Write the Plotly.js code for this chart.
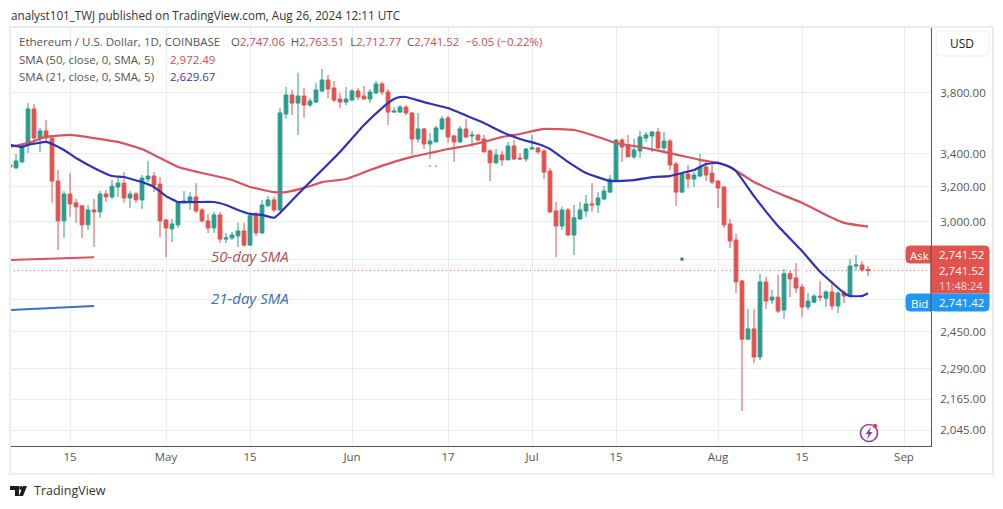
<!DOCTYPE html>
<html>
<head>
<meta charset="utf-8">
<script src="https://cdn.plot.ly/plotly-3.0.1.min.js"></script>
<style>
  html, body { margin: 0; padding: 0; background: #fff; }
  #chart { width: 1003px; height: 509px; }
</style>
</head>
<body>
<div id="chart"></div>
<script>
// --- Candles ---
const dates = [
    "2024-04-05","2024-04-06","2024-04-07","2024-04-08","2024-04-09","2024-04-10","2024-04-11","2024-04-12","2024-04-13","2024-04-14","2024-04-15","2024-04-16","2024-04-17","2024-04-18","2024-04-19","2024-04-20","2024-04-21","2024-04-22","2024-04-23","2024-04-24","2024-04-25","2024-04-26","2024-04-27","2024-04-28","2024-04-29","2024-04-30",
    "2024-05-01","2024-05-02","2024-05-03","2024-05-04","2024-05-05","2024-05-06","2024-05-07","2024-05-08","2024-05-09","2024-05-10","2024-05-11","2024-05-12","2024-05-13","2024-05-14","2024-05-15","2024-05-16","2024-05-17","2024-05-18","2024-05-19","2024-05-20","2024-05-21","2024-05-22","2024-05-23","2024-05-24","2024-05-25","2024-05-26","2024-05-27","2024-05-28","2024-05-29","2024-05-30","2024-05-31",
    "2024-06-01","2024-06-02","2024-06-03","2024-06-04","2024-06-05","2024-06-06","2024-06-07","2024-06-08","2024-06-09","2024-06-10","2024-06-11","2024-06-12","2024-06-13","2024-06-14","2024-06-15","2024-06-16","2024-06-17","2024-06-18","2024-06-19","2024-06-20","2024-06-21","2024-06-22","2024-06-23","2024-06-24","2024-06-25","2024-06-26","2024-06-27","2024-06-28","2024-06-29","2024-06-30",
    "2024-07-01","2024-07-02","2024-07-03","2024-07-04","2024-07-05","2024-07-06","2024-07-07","2024-07-08","2024-07-09","2024-07-10","2024-07-11","2024-07-12","2024-07-13","2024-07-14","2024-07-15","2024-07-16","2024-07-17","2024-07-18","2024-07-19","2024-07-20","2024-07-21","2024-07-22","2024-07-23","2024-07-24","2024-07-25","2024-07-26","2024-07-27","2024-07-28","2024-07-29","2024-07-30","2024-07-31",
    "2024-08-01","2024-08-02","2024-08-03","2024-08-04","2024-08-05","2024-08-06","2024-08-07","2024-08-08","2024-08-09","2024-08-10","2024-08-11","2024-08-12","2024-08-13","2024-08-14","2024-08-15","2024-08-16","2024-08-17","2024-08-18","2024-08-19","2024-08-20","2024-08-21","2024-08-22","2024-08-23","2024-08-24","2024-08-25","2024-08-26"
];
const opens = [
    3329,3311,3348,3454,3690,3498,3544,3498,3232,3004,3156,3105,3088,2982,3065,3054,3156,3139,3197,3220,3133,3156,3122,3244,3262,3214,
    3009,2960,2982,3105,3110,3139,3065,3004,2965,3037,2905,2911,2922,2949,2873,3037,2938,3088,3122,3065,3656,3786,3730,3779,3717,3737,3814,3892,3835,3758,3737,
    3751,3814,3779,3758,3800,3864,3807,3669,3669,3703,3663,3492,3557,3460,3473,3557,3629,3511,3473,3557,3511,3518,3492,3416,3342,3391,3360,3447,3372,3366,
    3428,3435,3416,3292,3059,2976,3065,2927,3015,3059,3099,3093,3127,3167,3238,3485,3454,3379,3416,3498,3511,3537,3435,3479,3335,3167,3274,3244,3262,3317,3280,
    3232,3197,2987,2900,2690,2417,2463,2339,2685,2597,2611,2550,2726,2705,2660,2564,2587,2616,2606,2636,2569,2631,2616,2765,2770,2747.06
];
const highs = [
    3342,3397,3466,3730,3723,3563,3616,3505,3298,3173,3280,3127,3093,3093,3127,3173,3179,3238,3256,3286,3173,3167,3268,3354,3286,3256,
    3015,3015,3110,3173,3167,3220,3076,3043,3054,3054,2938,2943,2993,2993,3037,3054,3122,3144,3139,3696,3842,3821,3943,3835,3765,3871,3971,3928,3885,3800,3842,
    3828,3835,3849,3828,3885,3878,3828,3703,3717,3717,3669,3663,3563,3531,3577,3643,3643,3518,3577,3623,3544,3518,3518,3428,3428,3416,3473,3485,3403,3435,
    3518,3441,3428,3311,3110,3082,3076,3093,3110,3150,3220,3167,3202,3268,3492,3498,3518,3492,3544,3537,3544,3563,3537,3492,3348,3280,3329,3286,3397,3360,3329,
    3238,3202,3015,2933,2695,2555,2555,2726,2711,2645,2721,2750,2741,2780,2675,2631,2626,2690,2645,2690,2640,2645,2800,2821,2790,2763.51
];
const lows = [
    3208,3305,3342,3403,3454,3410,3466,3105,2847,2911,3026,2993,2911,2954,2863,3021,3110,3127,3139,3105,3076,3105,3071,3226,3167,2916,
    2810,2889,2965,3105,3065,3048,2993,2938,2938,2884,2884,2900,2863,2863,2868,2922,2933,3082,3054,3059,3623,3649,3518,3629,3703,3730,3807,3765,3737,3696,3717,
    3744,3751,3758,3730,3793,3786,3583,3663,3663,3649,3391,3466,3428,3366,3473,3550,3466,3348,3466,3498,3441,3479,3410,3232,3335,3323,3360,3360,3366,3348,
    3422,3397,3244,3048,2810,2954,2922,2821,3009,3026,3054,3048,3122,3162,3232,3348,3379,3366,3372,3473,3410,3428,3403,3298,3088,3162,3191,3197,3256,3232,3214,
    3076,2965,2858,2631,2118,2417,2313,2326,2555,2578,2536,2509,2611,2631,2518,2550,2583,2592,2564,2550,2536,2583,2611,2741,2736,2712.77
];
const closes = [
    3317,3354,3454,3690,3498,3544,3498,3232,3004,3156,3099,3082,2982,3065,3054,3156,3139,3202,3220,3133,3156,3122,3250,3262,3208,3004,
    2965,2987,3105,3116,3139,3059,3004,2965,3037,2905,2911,2927,2949,2873,3032,2938,3093,3122,3065,3663,3786,3730,3779,3717,3744,3821,3892,3828,3751,3737,3758,
    3814,3772,3758,3807,3864,3807,3669,3676,3703,3663,3492,3557,3460,3479,3563,3623,3505,3473,3557,3505,3518,3485,3410,3342,3391,3360,3447,3366,3366,3428,
    3435,3410,3286,3054,2976,3065,2927,3021,3065,3099,3093,3133,3173,3244,3485,3441,3379,3422,3505,3518,3537,3435,3479,3329,3167,3274,3244,3268,3317,3268,3226,
    3191,2982,2895,2685,2417,2463,2339,2685,2592,2611,2545,2726,2700,2655,2564,2592,2616,2611,2636,2569,2631,2616,2765,2770,2745,2741.52
];

// --- Moving averages ---
const sma50Dates = ["2024-04-05","2024-04-08","2024-04-11","2024-04-15","2024-04-19","2024-04-23","2024-04-27","2024-04-30","2024-05-03","2024-05-07","2024-05-10","2024-05-12","2024-05-15","2024-05-19","2024-05-21","2024-05-25","2024-05-27","2024-05-31","2024-06-04","2024-06-08","2024-06-11","2024-06-14","2024-06-17","2024-06-20","2024-06-23","2024-06-26","2024-06-29","2024-07-03","2024-07-08","2024-07-11","2024-07-15","2024-07-19","2024-07-23","2024-07-26","2024-07-29","2024-08-01","2024-08-03","2024-08-07","2024-08-11","2024-08-15","2024-08-19","2024-08-22","2024-08-26"];
const sma50 = [3441,3466,3505,3518,3498,3473,3428,3372,3317,3280,3256,3238,3197,3167,3167,3202,3226,3244,3298,3348,3379,3403,3428,3447,3473,3505,3524,3557,3550,3518,3466,3441,3410,3385,3360,3342,3317,3226,3162,3105,3037,2993,2972.49];

const sma21Dates = ["2024-04-05","2024-04-07","2024-04-08","2024-04-11","2024-04-12","2024-04-14","2024-04-16","2024-04-19","2024-04-22","2024-04-24","2024-04-27","2024-04-29","2024-05-01","2024-05-03","2024-05-06","2024-05-09","2024-05-11","2024-05-13","2024-05-15","2024-05-17","2024-05-19","2024-05-20","2024-05-24","2024-05-30","2024-06-03","2024-06-06","2024-06-08","2024-06-09","2024-06-10","2024-06-13","2024-06-17","2024-06-21","2024-06-23","2024-06-26","2024-06-29","2024-07-02","2024-07-04","2024-07-07","2024-07-10","2024-07-14","2024-07-15","2024-07-18","2024-07-21","2024-07-24","2024-07-26","2024-07-28","2024-07-30","2024-08-01","2024-08-03","2024-08-04","2024-08-07","2024-08-11","2024-08-15","2024-08-18","2024-08-22","2024-08-23","2024-08-25","2024-08-26"];
const sma21 = [3454,3441,3454,3473,3460,3422,3372,3311,3262,3256,3226,3197,3144,3110,3110,3110,3093,3065,3043,3037,3021,3048,3191,3410,3583,3696,3758,3772,3772,3737,3696,3629,3596,3537,3492,3460,3428,3348,3280,3232,3232,3238,3256,3262,3280,3298,3335,3342,3317,3292,3144,2976,2842,2736,2631,2616,2616,2629.67];

// hand drawn legend strokes and stray specks on the published picture
const note50Dates = ["2024-04-05","2024-04-19"];
const note50 = [2795,2810];
const note21Dates = ["2024-04-05","2024-04-19"];
const note21 = [2550,2569];
const speckRedDates = ["2024-06-14","2024-06-15"];
const speckRed = [3323,3323];
const speckBlueDates = ["2024-07-26"];
const speckBlue = [2800];

// --- Axis ticks ---
const priceTicks = [3800,3400,3200,3000,2800,2600,2450,2290,2165,2045];
const priceLabels = ["3,800.00","3,400.00","3,200.00","3,000.00","","","2,450.00","2,290.00","2,165.00","2,045.00"];
const dateTicks = ["2024-04-15","2024-05-01","2024-05-15","2024-06-01","2024-06-17","2024-07-01","2024-07-15","2024-08-01","2024-08-15","2024-09-01"];
const dateLabels = ["15","May","15","Jun","17","Jul","15","Aug","15","Sep"];
const lastPrice = 2741.52;

// --- Page pixels to paper fractions (plot box is 10..931 by 27..446) ---
const fx = x => (x - 10) / 921;
const fy = y => (446 - y) / 419;
const FONT = 'Open Sans, sans-serif';
const RED = '#e2534f', TEAL = '#2a9d8f', BLUEBOX = '#2196f3', GRID = '#e7edf1', TXT = '#555';

function label(x, y, text, size, color, anchor, extra) {
    return Object.assign({
        xref: 'paper', yref: 'paper', x: fx(x), y: fy(y), text: text, showarrow: false,
        xanchor: anchor || 'left', yanchor: 'middle',
        font: { family: FONT, size: size, color: color }, borderpad: 0
    }, extra || {});
}

// rounded box, per corner radius [tl, tr, br, bl]
function box(x0, y0, x1, y1, r, fill, lineColor) {
    const X = fx, Y = fy;
    const d = `M${X(x0 + r[0])},${Y(y0)} L${X(x1 - r[1])},${Y(y0)} Q${X(x1)},${Y(y0)} ${X(x1)},${Y(y0 + r[1])} ` +
        `L${X(x1)},${Y(y1 - r[2])} Q${X(x1)},${Y(y1)} ${X(x1 - r[2])},${Y(y1)} L${X(x0 + r[3])},${Y(y1)} ` +
        `Q${X(x0)},${Y(y1)} ${X(x0)},${Y(y1 - r[3])} L${X(x0)},${Y(y0 + r[0])} Q${X(x0)},${Y(y0)} ${X(x0 + r[0])},${Y(y0)} Z`;
    return { type: 'path', xref: 'paper', yref: 'paper', path: d, fillcolor: fill,
        line: { color: lineColor || fill, width: 1 }, layer: 'above' };
}

function poly(points, fill) {
    const d = points.map((p, i) => (i ? 'L' : 'M') + fx(p[0]) + ',' + fy(p[1])).join(' ') + ' Z';
    return { type: 'path', xref: 'paper', yref: 'paper', path: d, fillcolor: fill, line: { width: 0 }, layer: 'above' };
}

function circle(cx, cy, r, fill, lineColor, width) {
    return { type: 'circle', xref: 'paper', yref: 'paper', x0: fx(cx - r), x1: fx(cx + r), y0: fy(cy + r), y1: fy(cy - r),
        fillcolor: fill, line: { color: lineColor, width: width }, layer: 'above' };
}

const traces = [
    {
        type: 'candlestick', x: dates, open: opens, high: highs, low: lows, close: closes,
        increasing: { line: { color: TEAL, width: 1 }, fillcolor: TEAL },
        decreasing: { line: { color: RED, width: 1 }, fillcolor: RED },
        whiskerwidth: 0, hoverinfo: 'skip', showlegend: false
    },
    { type: 'scatter', mode: 'lines', x: sma50Dates, y: sma50, line: { color: '#d9525f', width: 2.2, shape: 'spline', smoothing: 0.4 }, hoverinfo: 'skip' },
    { type: 'scatter', mode: 'lines', x: sma21Dates, y: sma21, line: { color: '#3030b8', width: 2.2, shape: 'spline', smoothing: 0.3 }, hoverinfo: 'skip' },
    { type: 'scatter', mode: 'lines', x: note50Dates, y: note50, line: { color: '#d9525f', width: 2 }, hoverinfo: 'skip' },
    { type: 'scatter', mode: 'lines', x: note21Dates, y: note21, line: { color: '#3a6fc4', width: 2 }, hoverinfo: 'skip' },
    { type: 'scatter', mode: 'markers', x: speckRedDates, y: speckRed, marker: { color: '#e2837f', size: 2 }, hoverinfo: 'skip' },
    { type: 'scatter', mode: 'markers', x: speckBlueDates, y: speckBlue, marker: { color: '#3a5fb0', size: 3, symbol: 'square' }, hoverinfo: 'skip' }
];

const layout = {
    width: 1003, height: 509,
    margin: { l: 10, r: 72, t: 27, b: 63 },
    paper_bgcolor: '#fff', plot_bgcolor: '#fff',
    showlegend: false,
    boxmode: 'overlay', boxgap: 0.1,
    font: { family: FONT, color: TXT },
    xaxis: {
        type: 'date', range: ['2024-04-05 00:00', '2024-09-05 12:00'],
        rangeslider: { visible: false },
        tickmode: 'array', tickvals: dateTicks, ticktext: dateLabels,
        tickfont: { family: FONT, size: 11.5, color: TXT },
        gridcolor: GRID, gridwidth: 1, ticks: '', showline: true, linecolor: '#555', linewidth: 1, zeroline: false
    },
    yaxis: {
        type: 'log', side: 'right',
        range: [Math.log10(1986), Math.log10(4290)],
        tickmode: 'array', tickvals: priceTicks, ticktext: priceLabels,
        tickfont: { family: FONT, size: 11.5, color: TXT },
        gridcolor: GRID, gridwidth: 1, ticks: '', ticklen: 0, ticklabelstandoff: 6,
        showline: true, linecolor: '#555', linewidth: 1, zeroline: false
    },
    shapes: [
        // last price line
        { type: 'line', xref: 'paper', yref: 'y', x0: 0, x1: 1, y0: lastPrice, y1: lastPrice,
          line: { color: '#c96a6a', width: 1, dash: '1px 3px' }, layer: 'below' },
        // card border
        { type: 'rect', xref: 'paper', yref: 'paper', x0: fx(10), x1: fx(993), y0: fy(474), y1: fy(27),
          line: { color: '#e9edf0', width: 2 }, fillcolor: 'rgba(0,0,0,0)', layer: 'above' },
        // USD button
        box(936, 31, 989, 56, [4, 4, 4, 4], '#fff', '#eeeeee'),
        // price flags
        box(906, 246, 932, 263, [4, 0, 0, 4], RED),
        box(931, 246, 989, 293, [0, 4, 0, 0], RED),
        box(906, 294, 932, 311, [4, 0, 0, 4], BLUEBOX),
        box(931, 294, 989, 311, [0, 0, 4, 4], BLUEBOX),
        { type: 'line', xref: 'paper', yref: 'paper', x0: 1, x1: 1, y0: fy(246), y1: fy(311), line: { color: '#555', width: 1 }, layer: 'above' },
        // lightning badge
        circle(869, 433, 8.5, '#fff', '#8e3fa8', 1.6),
        poly([[871, 427], [865.5, 434], [868.5, 434], [867, 439.5], [872.5, 432], [869.5, 432]], '#8e3fa8'),
        circle(875, 426, 2.2, '#e2433f', '#e2433f', 0),
        // TradingView logo
        poly([[10, 486], [19, 486], [19, 496], [15, 496], [15, 490], [10, 490]], '#1b1b1f'),
        circle(21, 488, 1.9, '#1b1b1f', '#1b1b1f', 0),
        poly([[23, 486], [27, 486], [23, 496], [19, 496]], '#1b1b1f')
    ],
    annotations: [
        label(10, 15, 'analyst101_TWJ published on TradingView.com, Aug 26, 2024 12:11 UTC', 11.7, '#333'),
        label(18, 42, 'Ethereum / U.S. Dollar, 1D, COINBASE', 11.5, TXT),
        label(230, 42, 'O<span style="color:#c9504f">2,747.06</span>  H<span style="color:#c9504f">2,763.51</span>  L<span style="color:#c9504f">2,712.77</span>  C<span style="color:#c9504f">2,741.52</span>  <span style="color:#c9504f">\u22126.05 (\u22120.22%)</span>', 11.4, TXT),
        label(18, 59, 'SMA (50, close, 0, SMA, 5)', 11.5, TXT),
        label(169, 59, '2,972.49', 11.5, '#c9505c'),
        label(18, 76, 'SMA (21, close, 0, SMA, 5)', 11.5, TXT),
        label(169, 76, '2,629.67', 11.5, '#3a3aa8'),
        label(210, 256, '<i>50-day SMA</i>', 15, '#b5514f'),
        label(210, 298, '<i>21-day SMA</i>', 15, '#3a6fb0'),
        label(962, 44, 'USD', 12, '#222', 'center'),
        label(919, 255, 'Ask', 11.5, '#fff', 'center'),
        label(961, 254, '2,741.52', 11.5, '#fff', 'center'),
        label(961, 270, '2,741.52', 11.5, '#fff', 'center'),
        label(961, 285, '11:48:24', 11, '#f7d5d3', 'center'),
        label(919, 303, 'Bid', 11.5, '#fff', 'center'),
        label(961, 302, '2,741.42', 11.5, '#fff', 'center'),
        label(33, 491, 'TradingView', 12.5, '#333')
    ]
};

Plotly.newPlot('chart', traces, layout, { displayModeBar: false, staticPlot: true });
</script>
</body>
</html>
